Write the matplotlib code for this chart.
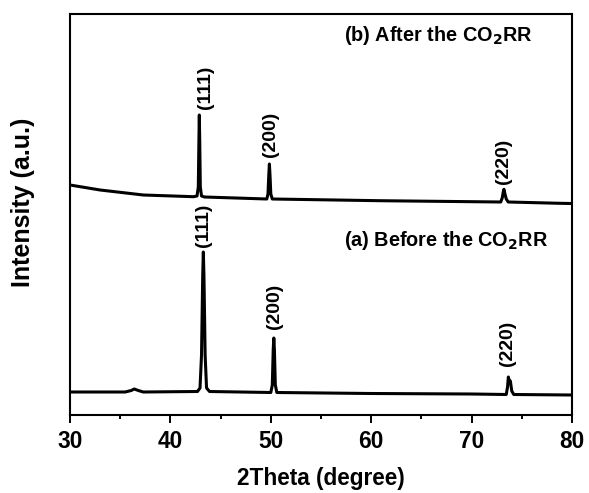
import matplotlib
matplotlib.use("Agg")
import matplotlib.pyplot as plt

plt.rcParams["font.family"] = ["Liberation Sans", "DejaVu Sans"]
plt.rcParams["font.weight"] = "bold"

# pattern (a): before the CO2RR (2theta, intensity a.u.)
tt_a = [30.0, 35.5, 36.1, 36.4, 36.8, 37.3, 42.7, 42.95, 43.1, 43.22, 43.28, 43.34, 43.46,
        43.6, 43.9, 50.0, 50.15, 50.24, 50.3, 50.36, 50.45, 50.6, 60.0, 70.0, 73.45,
        73.58, 73.66, 73.78, 73.86, 74.0, 74.2, 80.0]
int_a = [23, 23, 24.5, 26, 24.5, 23, 23.5, 27, 60, 140, 163, 140, 60,
         27, 23.5, 22.5, 30, 65, 77, 65, 30, 22.5, 21.5, 21, 20.5,
         28, 38, 33, 34, 24, 20.5, 20]

# pattern (b): after the CO2RR
tt_b = [30.0, 33.0, 37.3, 42.3, 42.65, 42.78, 42.84, 42.88, 42.92, 42.98, 43.1, 43.4,
        49.6, 49.72, 49.8, 49.86, 49.92, 50.0, 50.15, 60.8, 72.9, 73.05, 73.15, 73.22,
        73.3, 73.45, 73.65, 78.8, 80.0]
int_b = [230, 225, 220, 218.3, 219, 228, 275, 300, 275, 228, 219, 218,
         216, 221, 240, 251, 240, 221, 216, 214.3, 213, 217, 223, 225.7,
         222, 216, 213, 211.7, 211.5]

# peak labels: (text, 2theta, intensity)
labels_a = [("(111)", 43.3, 190), ("(200)", 50.4, 109), ("(220)", 73.6, 72)]
labels_b = [("(111)", 43.45, 328), ("(200)", 50.0, 281), ("(220)", 73.2, 254)]

fig = plt.figure(figsize=(5.89, 4.93), dpi=100)
ax = fig.add_axes([70 / 589, 78 / 493, 502 / 589, 401 / 493])

for txt, x, y in labels_a + labels_b:
    ax.text(x, y, txt, rotation=90, ha="center", va="center", fontsize=14,
            fontweight="bold", zorder=1)

ax.plot(tt_a, int_a, color="black", lw=2.2, zorder=2)
ax.plot(tt_b, int_b, color="black", lw=2.2, zorder=2)

ax.text(76.1, 380, r"(b) After the CO$_\mathbf{2}$RR", ha="right", va="center",
        fontsize=14.3, fontweight="bold")
ax.text(77.6, 175, r"(a) Before the CO$_\mathbf{2}$RR", ha="right", va="center",
        fontsize=14.3, fontweight="bold")

ax.set_xlim(30, 80)
ax.set_ylim(0, 401)
ax.set_xticks([30, 40, 50, 60, 70, 80])
ax.set_xticks([35, 45, 55, 65, 75], minor=True)
ax.set_yticks([])
ax.tick_params(axis="x", which="major", direction="out", length=5.5, width=1.4,
               labelsize=16.3, pad=5)
ax.tick_params(axis="x", which="minor", direction="out", length=3, width=1.4)
for lab in ax.get_xticklabels():
    lab.set_fontweight("bold")
for sp in ax.spines.values():
    sp.set_linewidth(1.5)

fig.text(321 / 589, 1 - 479 / 493, "2Theta (degree)", ha="center", va="center",
         fontsize=16.3, fontweight="bold")
fig.text(23 / 589, 1 - 202 / 493, "Intensity (a.u.)", ha="center", va="center",
         rotation=90, fontsize=18, fontweight="bold")

fig.savefig("out.png", dpi=100)
